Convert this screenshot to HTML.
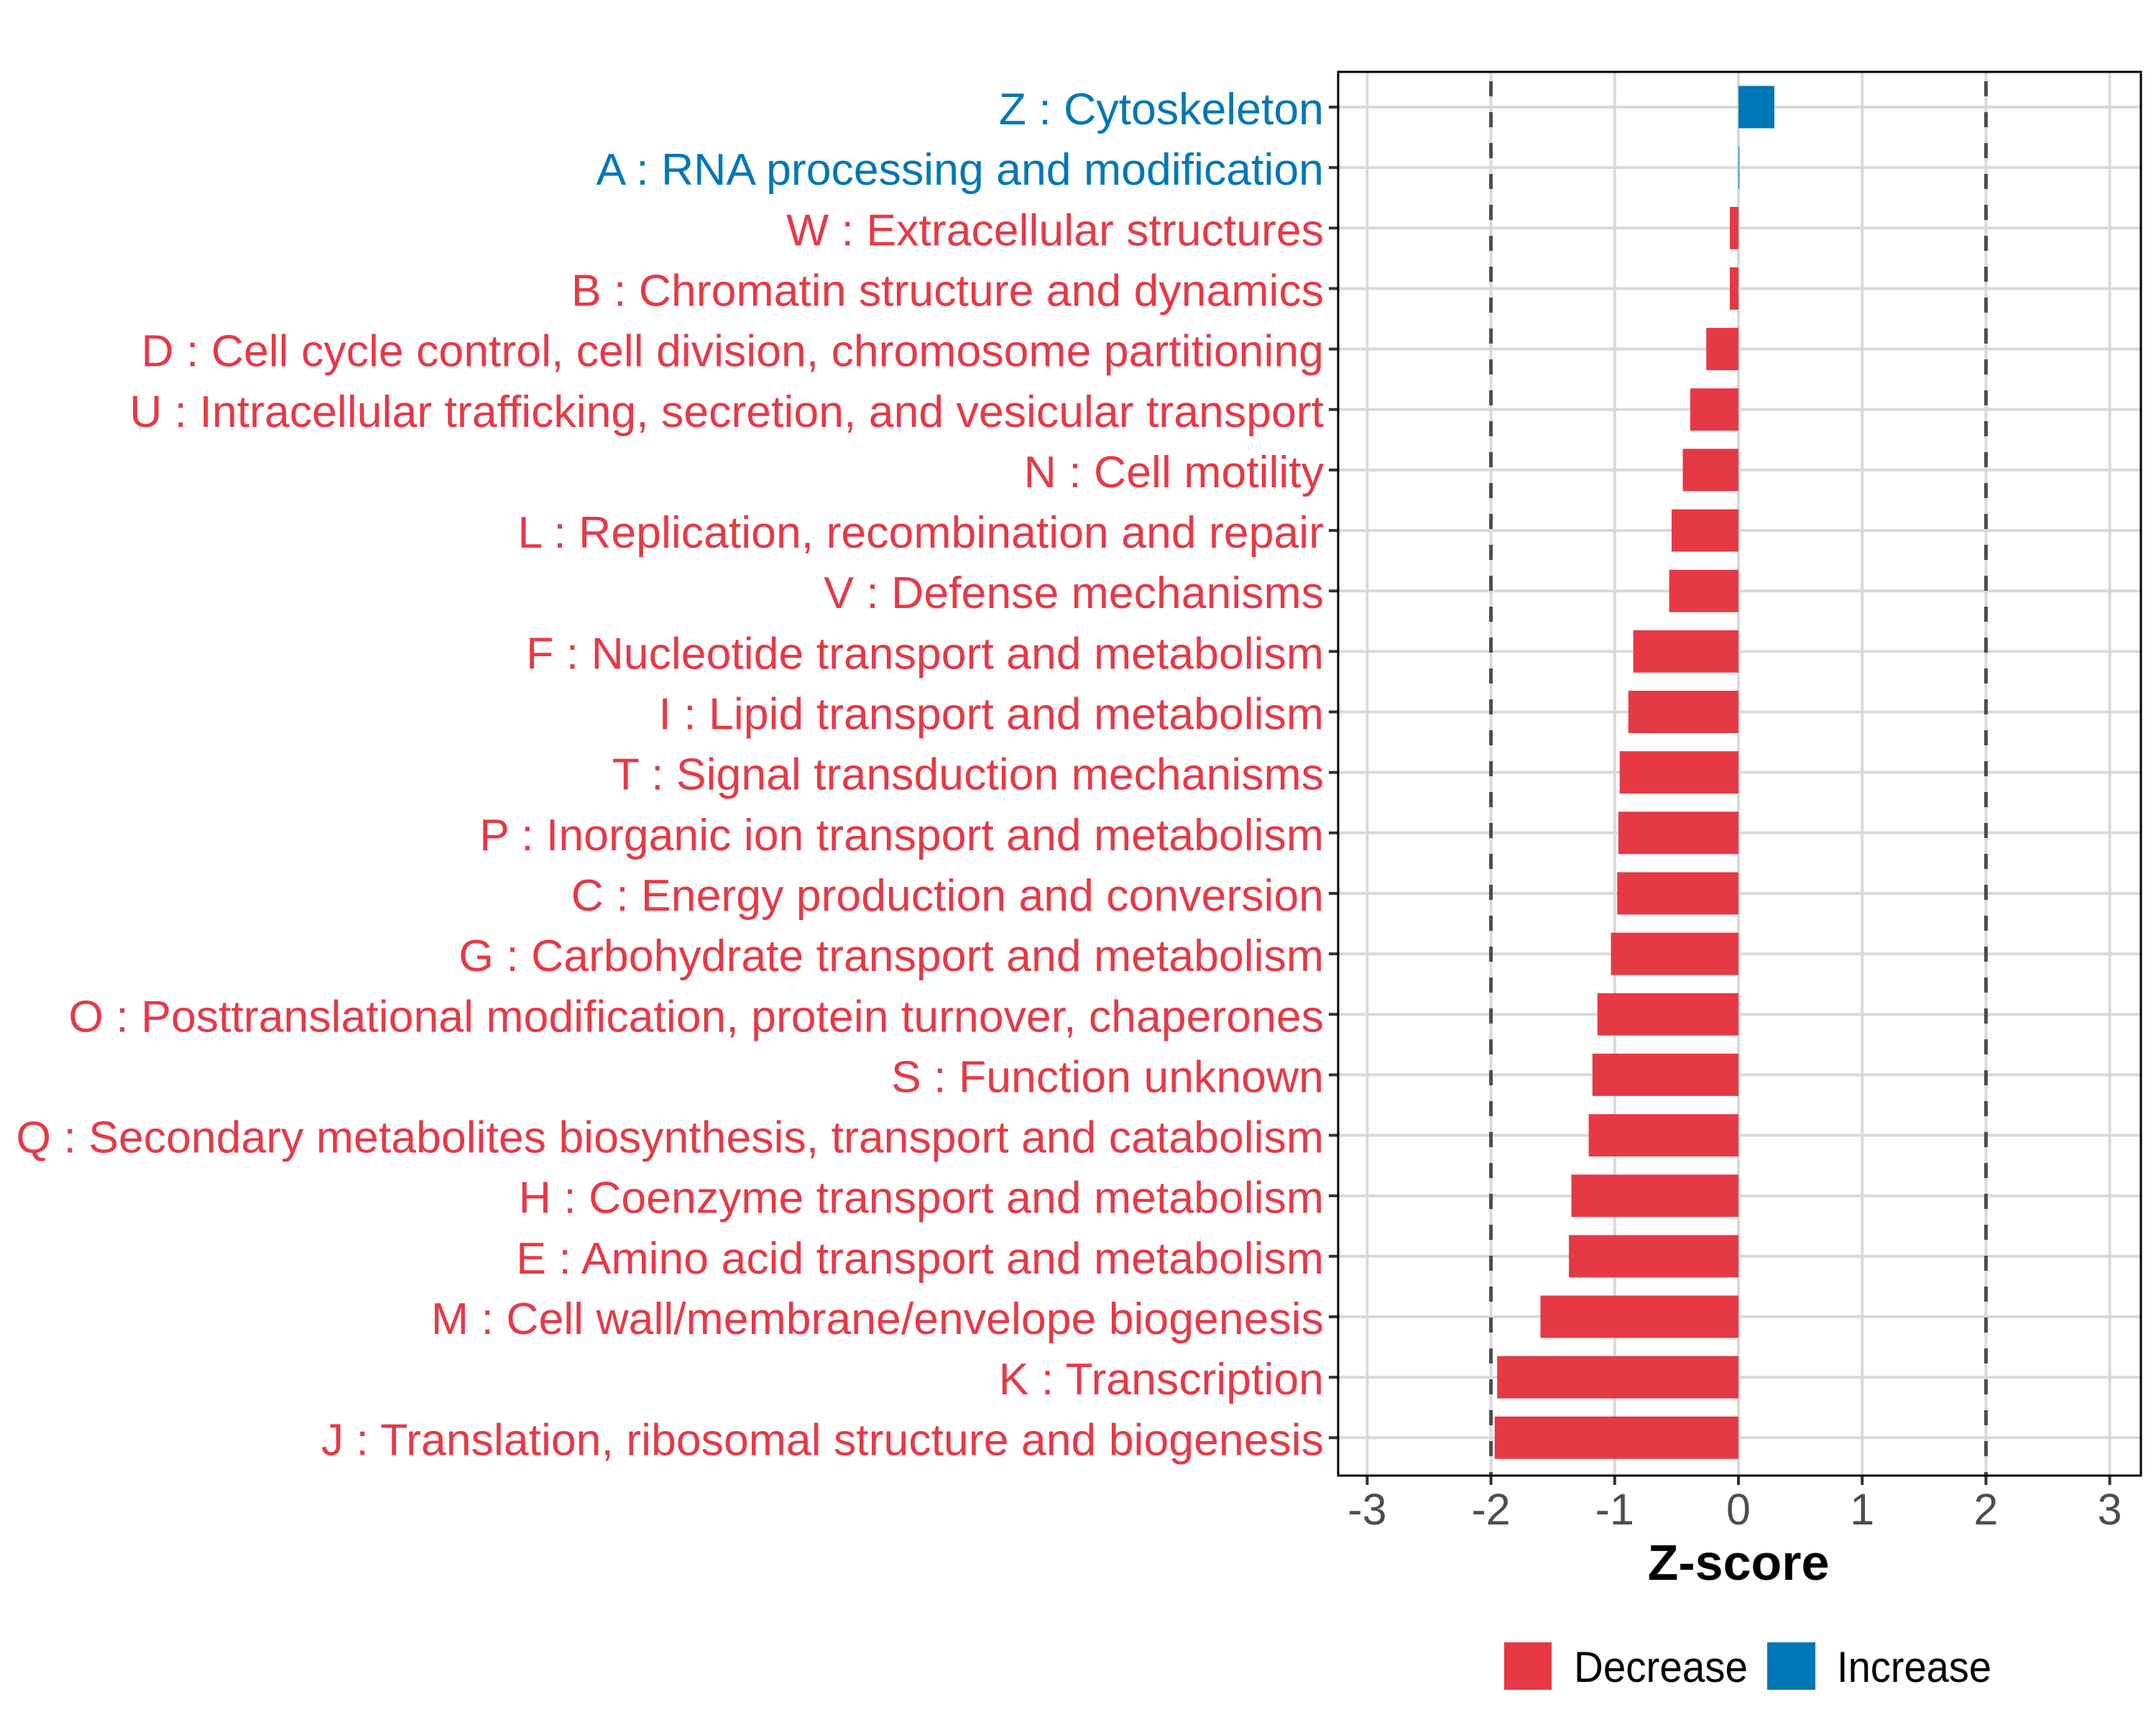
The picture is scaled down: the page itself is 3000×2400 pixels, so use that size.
<!DOCTYPE html>
<html><head><meta charset="utf-8"><style>
html,body{margin:0;padding:0;background:#fff}
svg{display:block;font-family:"Liberation Sans",sans-serif}
</style></head><body>
<svg id="chart" width="3000" height="2400" viewBox="0 0 3000 2400" xmlns="http://www.w3.org/2000/svg">
<rect width="3000" height="2400" fill="#fff"/>
<g id="gridlayer"></g><g id="barlayer"></g><g id="axislayer"></g>
<text x="2419" y="2198" font-size="70" font-weight="bold" text-anchor="middle" fill="#000">Z-score</text>
<g>
<rect x="2093" y="2285" width="66" height="66" fill="#E63946"/>
<text x="2190" y="2340" font-size="60" textLength="242" lengthAdjust="spacingAndGlyphs" fill="#000">Decrease</text>
<rect x="2459" y="2285" width="67" height="66" fill="#0077B6"/>
<text x="2556" y="2340" font-size="60" textLength="215" lengthAdjust="spacingAndGlyphs" fill="#000">Increase</text>
</g>
</svg>
<script>
var categories = ["Z : Cytoskeleton","A : RNA processing and modification","W : Extracellular structures","B : Chromatin structure and dynamics","D : Cell cycle control, cell division, chromosome partitioning","U : Intracellular trafficking, secretion, and vesicular transport","N : Cell motility","L : Replication, recombination and repair","V : Defense mechanisms","F : Nucleotide transport and metabolism","I : Lipid transport and metabolism","T : Signal transduction mechanisms","P : Inorganic ion transport and metabolism","C : Energy production and conversion","G : Carbohydrate transport and metabolism","O : Posttranslational modification, protein turnover, chaperones","S : Function unknown","Q : Secondary metabolites biosynthesis, transport and catabolism","H : Coenzyme transport and metabolism","E : Amino acid transport and metabolism","M : Cell wall/membrane/envelope biogenesis","K : Transcription","J : Translation, ribosomal structure and biogenesis"];
var zscores = [0.29,0.005,-0.07,-0.07,-0.26,-0.39,-0.45,-0.54,-0.56,-0.85,-0.89,-0.96,-0.97,-0.98,-1.03,-1.14,-1.18,-1.21,-1.35,-1.37,-1.6,-1.95,-1.97];
var xTicks = [-3,-2,-1,0,1,2,3];
var thresholds = [-2,2];

var NS = "http://www.w3.org/2000/svg";
var PL = 1862, PR = 2979, PT = 100, PB = 2053, X0 = 2419, UNIT = 172.2, Y0 = 149, DY = 84.15;
function xs(v){ return X0 + v * UNIT; }
function ys(i){ return Y0 + i * DY; }
var gridG = document.getElementById('gridlayer');
var barG = document.getElementById('barlayer');
var axisG = document.getElementById('axislayer');
var i, el, v, col;

for (i = 0; i < xTicks.length; i++) {
  el = document.createElementNS(NS, 'line');
  el.setAttribute('x1', xs(xTicks[i])); el.setAttribute('x2', xs(xTicks[i]));
  el.setAttribute('y1', PT); el.setAttribute('y2', PB);
  el.setAttribute('stroke', '#d9d9d9'); el.setAttribute('stroke-width', 4);
  
  
  gridG.appendChild(el);
}
for (i = 0; i < categories.length; i++) {
  el = document.createElementNS(NS, 'line');
  el.setAttribute('x1', PL); el.setAttribute('x2', PR);
  el.setAttribute('y1', ys(i)); el.setAttribute('y2', ys(i));
  el.setAttribute('stroke', '#d9d9d9'); el.setAttribute('stroke-width', 4);
  
  
  gridG.appendChild(el);
}
for (i = 0; i < thresholds.length; i++) {
  el = document.createElementNS(NS, 'line');
  el.setAttribute('x1', xs(thresholds[i])); el.setAttribute('x2', xs(thresholds[i]));
  el.setAttribute('y1', PT + 13); el.setAttribute('y2', PB);
  el.setAttribute('stroke', '#4d4d4d'); el.setAttribute('stroke-width', 5);
  el.setAttribute('stroke-dasharray', '21 22');
  
  
  gridG.appendChild(el);
}
var bh = DY * 0.7;
for (i = 0; i < zscores.length; i++) {
  v = zscores[i];
  col = v > 0 ? '#0077B6' : '#E63946';
  el = document.createElementNS(NS, 'rect');
  el.setAttribute('x', Math.min(xs(0), xs(v)));
  el.setAttribute('y', ys(i) - bh / 2);
  el.setAttribute('width', Math.max(Math.abs(xs(v) - xs(0)), 1));
  el.setAttribute('height', bh);
  el.setAttribute('fill', col);
  
  
  barG.appendChild(el);

  el = document.createElementNS(NS, 'line');
  el.setAttribute('x1', PL - 13); el.setAttribute('x2', PL);
  el.setAttribute('y1', ys(i)); el.setAttribute('y2', ys(i));
  el.setAttribute('stroke', '#333'); el.setAttribute('stroke-width', 4);
  
  
  axisG.appendChild(el);

  el = document.createElementNS(NS, 'text');
  el.setAttribute('x', PL - 20);
  el.setAttribute('y', ys(i) + 24);
  el.setAttribute('font-size', 62.6);
  el.setAttribute('text-anchor', 'end');
  el.setAttribute('fill', col);
  el.textContent = categories[i];
  
  
  axisG.appendChild(el);
}
for (i = 0; i < xTicks.length; i++) {
  el = document.createElementNS(NS, 'line');
  el.setAttribute('x1', xs(xTicks[i])); el.setAttribute('x2', xs(xTicks[i]));
  el.setAttribute('y1', PB); el.setAttribute('y2', PB + 13);
  el.setAttribute('stroke', '#333'); el.setAttribute('stroke-width', 4);
  
  
  axisG.appendChild(el);

  el = document.createElementNS(NS, 'text');
  el.setAttribute('x', xs(xTicks[i]));
  el.setAttribute('y', 2121);
  el.setAttribute('font-size', 61);
  el.setAttribute('text-anchor', 'middle');
  el.setAttribute('fill', '#4d4d4d');
  el.textContent = String(xTicks[i]);
  
  
  axisG.appendChild(el);
}
el = document.createElementNS(NS, 'rect');
el.setAttribute('x', PL); el.setAttribute('y', PT);
el.setAttribute('width', PR - PL); el.setAttribute('height', PB - PT);
el.setAttribute('fill', 'none'); el.setAttribute('stroke', '#000'); el.setAttribute('stroke-width', 3);


axisG.appendChild(el);
</script>
</body></html>
